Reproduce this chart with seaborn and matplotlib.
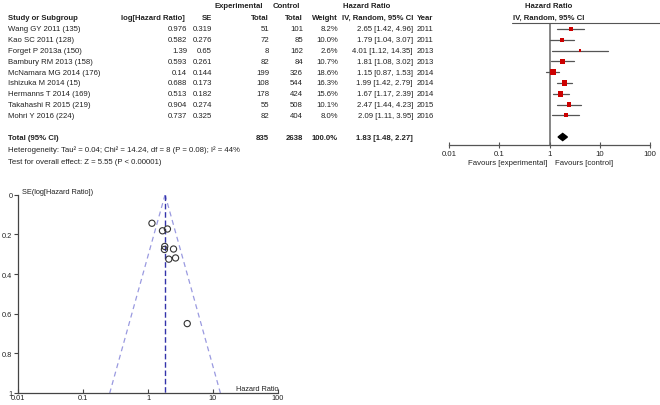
import numpy as np
import pandas as pd
import matplotlib
matplotlib.use("Agg")
import matplotlib.pyplot as plt
import matplotlib.transforms as mtransforms
from matplotlib.patches import Polygon
import seaborn as sns

# datos del forest plot
studies = ["Wang GY 2011 (135)", "Kao SC 2011 (128)", "Forget P 2013a (150)",
           "Bambury RM 2013 (158)", "McNamara MG 2014 (176)", "Ishizuka M 2014 (15)",
           "Hermanns T 2014 (169)", "Takahashi R 2015 (219)", "Mohri Y 2016 (224)"]
log_hr = [0.976, 0.582, 1.39, 0.593, 0.14, 0.688, 0.513, 0.904, 0.737]
se = [0.319, 0.276, 0.65, 0.261, 0.144, 0.173, 0.182, 0.274, 0.325]
exp_total = [51, 72, 8, 82, 199, 108, 178, 55, 82]
ctrl_total = [101, 85, 162, 84, 326, 544, 424, 508, 404]
weight = [8.2, 10.0, 2.6, 10.7, 18.6, 16.3, 15.6, 10.1, 8.0]
hr = [2.65, 1.79, 4.01, 1.81, 1.15, 1.99, 1.67, 2.47, 2.09]
ci_low = [1.42, 1.04, 1.12, 1.08, 0.87, 1.42, 1.17, 1.44, 1.11]
ci_high = [4.96, 3.07, 14.35, 3.02, 1.53, 2.79, 2.39, 4.23, 3.95]
years = [2011, 2011, 2013, 2013, 2014, 2014, 2014, 2015, 2016]

total_exp = 835
total_ctrl = 2638
pooled_hr, pooled_low, pooled_high = 1.83, 1.48, 2.27
heterogeneity = "Heterogeneity: Tau\u00b2 = 0.04; Chi\u00b2 = 14.24, df = 8 (P = 0.08); I\u00b2 = 44%"
overall_test = "Test for overall effect: Z = 5.55 (P < 0.00001)"
axis_ticks = [0.01, 0.1, 1, 10, 100]
axis_labels = ["0.01", "0.1", "1", "10", "100"]
se_ticks = [0, 0.2, 0.4, 0.6, 0.8, 1]
se_labels = ["0", "0.2", "0.4", "0.6", "0.8", "1"]

df = pd.DataFrame({"study": studies, "log_hr": log_hr, "se": se, "hr": hr,
                   "low": ci_low, "high": ci_high, "weight": weight,
                   "row": np.arange(len(studies))})
df["hr_exp"] = np.exp(df["log_hr"])

sns.set_theme(style="white")
plt.rcParams["font.family"] = ["Liberation Sans", "DejaVu Sans"]

W, H = 660, 406
fig = plt.figure(figsize=(W / 100, H / 100), dpi=100)


def fx(x):
    return x / W


def fy(y):
    return 1 - y / H


FS = 5.6
TXT = "#222222"

# ---- forest plot ----
total_row = 10
ax = fig.add_axes([fx(449), fy(146), (650 - 449) / W, (146 - 24) / H])
ax.set_xscale("log")
ax.set_xlim(0.01, 100)
ax.set_ylim(10.74, -0.55)
ax.patch.set_alpha(0)

for _, r in df.iterrows():
    ax.plot([r["low"], r["high"]], [r["row"], r["row"]], color="#555555", lw=0.9, zorder=2)
sns.scatterplot(data=df, x="hr", y="row", size="weight", sizes=(2.6, 18.6),
                size_norm=(2.6, 18.6), marker="s", color="#cc0000", edgecolor="none",
                legend=False, ax=ax, zorder=3)
ax.axvline(1, color="#666666", lw=1.1, zorder=1)
diamond = Polygon([(pooled_low, total_row), (pooled_hr, total_row - 0.33),
                   (pooled_high, total_row), (pooled_hr, total_row + 0.33)],
                  closed=True, color="black", zorder=4)
ax.add_patch(diamond)

for side in ["top", "right", "left"]:
    ax.spines[side].set_visible(False)
ax.spines["bottom"].set_color("#555555")
ax.spines["bottom"].set_linewidth(0.9)
ax.set_xticks(axis_ticks)
ax.set_xticklabels(axis_labels)
ax.minorticks_off()
ax.tick_params(axis="x", direction="inout", length=5, width=0.8, color="#555555",
               labelsize=FS, labelcolor=TXT, pad=1, bottom=True)
ax.set_yticks([])
ax.set_xlabel("")
ax.set_ylabel("")

fig.add_artist(plt.Line2D([fx(512), fx(660)], [fy(24), fy(24)], color="#555555", lw=0.8))
fig.text(fx(547), fy(164), "Favours [experimental]", ha="right", va="center", fontsize=FS, color=TXT)
fig.text(fx(555), fy(164), "Favours [control]", ha="left", va="center", fontsize=FS, color=TXT)

# ---- tabla ----
tr = mtransforms.blended_transform_factory(fig.transFigure, ax.transData)
bold = dict(fontsize=FS, color=TXT, fontweight="bold", va="center")
fig.text(fx(239), fy(7), "Experimental", ha="center", **bold)
fig.text(fx(286), fy(7), "Control", ha="center", **bold)
fig.text(fx(367), fy(7), "Hazard Ratio", ha="center", **bold)
fig.text(fx(549), fy(7), "Hazard Ratio", ha="center", **bold)
fig.text(fx(8), fy(18.5), "Study or Subgroup", ha="left", **bold)
fig.text(fx(185), fy(18.5), "log[Hazard Ratio]", ha="right", **bold)
fig.text(fx(212), fy(18.5), "SE", ha="right", **bold)
fig.text(fx(269), fy(18.5), "Total", ha="right", **bold)
fig.text(fx(303), fy(18.5), "Total", ha="right", **bold)
fig.text(fx(338), fy(18.5), "Weight", ha="right", **bold)
fig.text(fx(413), fy(18.5), "IV, Random, 95% CI", ha="right", **bold)
fig.text(fx(417), fy(18.5), "Year", ha="left", **bold)
fig.text(fx(549), fy(18.5), "IV, Random, 95% CI", ha="center", **bold)

norm = dict(fontsize=FS, color=TXT, va="center", transform=tr)
for i in range(len(studies)):
    ax.text(fx(8), i, studies[i], ha="left", **norm)
    ax.text(fx(187), i, str(log_hr[i]), ha="right", **norm)
    ax.text(fx(212), i, str(se[i]), ha="right", **norm)
    ax.text(fx(269), i, str(exp_total[i]), ha="right", **norm)
    ax.text(fx(303), i, str(ctrl_total[i]), ha="right", **norm)
    ax.text(fx(338), i, f"{weight[i]:.1f}%", ha="right", **norm)
    ax.text(fx(413), i, f"{hr[i]:.2f} [{ci_low[i]:.2f}, {ci_high[i]:.2f}]", ha="right", **norm)
    ax.text(fx(417), i, str(years[i]), ha="left", **norm)

ax.text(fx(8), total_row, "Total (95% CI)", ha="left", fontweight="bold", **norm)
ax.text(fx(269), total_row, str(total_exp), ha="right", fontweight="bold", **norm)
ax.text(fx(303), total_row, str(total_ctrl), ha="right", fontweight="bold", **norm)
ax.text(fx(338), total_row, "100.0%", ha="right", fontweight="bold", **norm)
ax.text(fx(413), total_row, f"{pooled_hr:.2f} [{pooled_low:.2f}, {pooled_high:.2f}]",
        ha="right", fontweight="bold", **norm)
fig.text(fx(8), fy(150), heterogeneity, ha="left", va="center", fontsize=FS, color=TXT)
fig.text(fx(8), fy(162), overall_test, ha="left", va="center", fontsize=FS, color=TXT)

# ---- funnel plot ----
ax2 = fig.add_axes([fx(18), fy(394), (278 - 18) / W, (394 - 195.7) / H])
ax2.set_xscale("log")
ax2.set_xlim(0.01, 100)
ax2.set_ylim(1, 0)
ax2.patch.set_alpha(0)

se_lim = np.array([0, 1])
ax2.plot(pooled_hr * np.exp(-1.96 * se_lim), se_lim, ls=(0, (4, 3)), color="#9a9ae0", lw=0.9)
ax2.plot(pooled_hr * np.exp(1.96 * se_lim), se_lim, ls=(0, (4, 3)), color="#9a9ae0", lw=0.9)
ax2.plot([pooled_hr, pooled_hr], se_lim, ls=(0, (4, 2)), color="#3333aa", lw=1.0)
sns.scatterplot(data=df, x="hr_exp", y="se", marker="o", s=20, facecolor="none",
                edgecolor="#333333", linewidth=0.8, legend=False, ax=ax2, zorder=3)

for side in ["top", "right"]:
    ax2.spines[side].set_visible(False)
for side in ["left", "bottom"]:
    ax2.spines[side].set_color("#444444")
    ax2.spines[side].set_linewidth(0.9)
ax2.set_xticks(axis_ticks)
ax2.set_xticklabels(axis_labels)
ax2.set_yticks(se_ticks)
ax2.set_yticklabels(se_labels)
ax2.minorticks_off()
ax2.tick_params(axis="y", direction="out", length=3, width=0.8, color="#444444",
                labelsize=5.3, labelcolor=TXT, pad=1, left=True)
ax2.tick_params(axis="x", direction="in", length=3, width=0.8, color="#444444",
                labelsize=5.3, labelcolor=TXT, pad=0.5, bottom=True)
ax2.set_xlabel("")
ax2.set_ylabel("")
fig.text(fx(22), fy(193), "SE(log[Hazard Ratio])", ha="left", va="center", fontsize=5.3, color=TXT)
fig.text(fx(278), fy(390), "Hazard Ratio", ha="right", va="center", fontsize=5.3, color=TXT)

fig.savefig("out.png", dpi=100, facecolor="white")
